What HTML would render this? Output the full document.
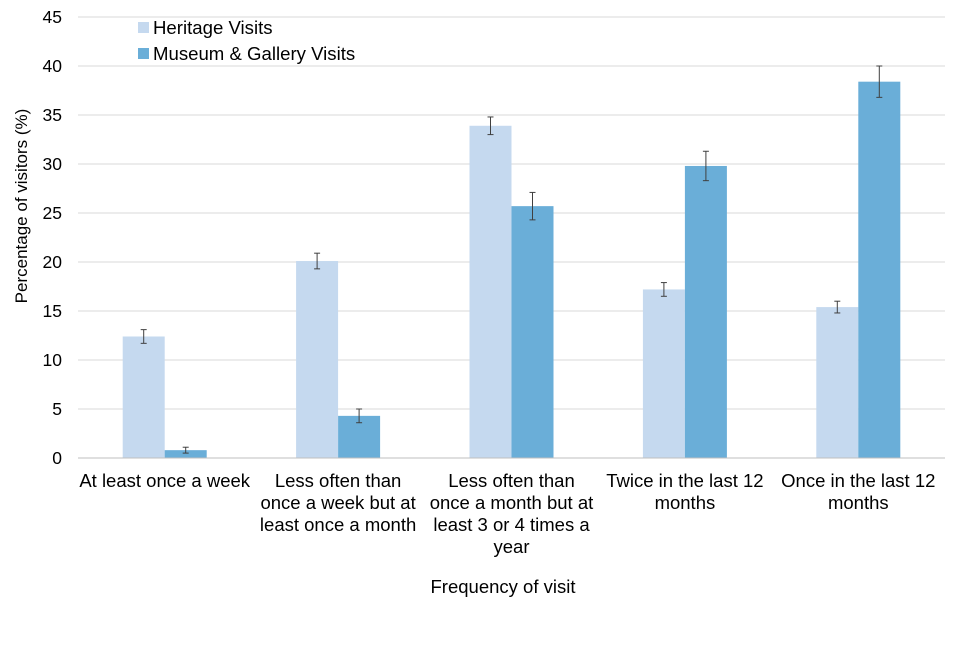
<!DOCTYPE html>
<html><head><meta charset="utf-8"><style>
body{margin:0;background:#fff;}
svg{font-family:"Liberation Sans",Arial,sans-serif;}
</style></head><body>
<svg id="chart" width="960" height="640" viewBox="0 0 960 640"></svg>
<script>
const categories=[["At least once a week"],["Less often than","once a week but at","least once a month"],["Less often than","once a month but at","least 3 or 4 times a","year"],["Twice in the last 12","months"],["Once in the last 12","months"]];
const heritage=[12.4,20.1,33.9,17.2,15.4];
const museum=[0.8,4.3,25.7,29.8,38.4];
const heritageErr=[0.7,0.8,0.9,0.7,0.6];
const museumErr=[0.3,0.7,1.4,1.5,1.6];
const yTicks=[0,5,10,15,20,25,30,35,40,45];
const NS="http://www.w3.org/2000/svg";
const svg=document.getElementById('chart');
const x0=78,x1=945,y0=458,yTop=17;
const y=v=>y0-(v/45)*(y0-yTop);
const bw=(x1-x0)/categories.length;
const cx=i=>x0+bw*(i+0.5);
function mk(t,a,p){const e=document.createElementNS(NS,t);for(const k in a)e.setAttribute(k,a[k]);(p||svg).appendChild(e);return e;}
yTicks.forEach(t=>{
 const l=mk('line',{x1:x0,x2:x1,y1:y(t),y2:y(t),stroke:t===0?'#bfbfbf':'#d9d9d9','stroke-width':1});
 
 
 const tx=mk('text',{x:62,y:y(t)+6,'text-anchor':'end','font-size':17.5,fill:'#000'});tx.textContent=t;
 
 
});
const barW=42;
function errbar(xc,v,e,name){
 const g=mk('g',{stroke:'#404040','stroke-width':1});
 
 
 mk('line',{x1:xc,x2:xc,y1:y(v+e),y2:y(v-e)},g);
 mk('line',{x1:xc-3,x2:xc+3,y1:y(v+e),y2:y(v+e)},g);
 mk('line',{x1:xc-3,x2:xc+3,y1:y(v-e),y2:y(v-e)},g);
}
categories.forEach((c,i)=>{
 const c0=cx(i);
 const r1=mk('rect',{x:c0-barW,y:y(heritage[i]),width:barW,height:y0-y(heritage[i]),fill:'#c5d9ef'});
 
 
 const r2=mk('rect',{x:c0,y:y(museum[i]),width:barW,height:y0-y(museum[i]),fill:'#6aaed8'});
 
 
 errbar(c0-barW/2,heritage[i],heritageErr[i],'error-bar-heritage-'+i);
 errbar(c0+barW/2,museum[i],museumErr[i],'error-bar-museum-'+i);
 const t=mk('text',{x:c0,'text-anchor':'middle','font-size':18.5,fill:'#000'});
 
 
 c.forEach((s,j)=>{const ts=mk('tspan',{x:c0,y:487+j*22},t);ts.textContent=s;});
});
mk('line',{x1:x0,x2:x1,y1:y0,y2:y0,stroke:'#bfbfbf'});
</script>
<svg width="960" height="640" style="position:absolute;left:0;top:0" font-family="Liberation Sans,Arial,sans-serif">
<g>
<rect x="138" y="22" width="11" height="11" fill="#c5d9ef"/>
<text x="153" y="34" font-size="18.6">Heritage Visits</text>
<rect x="138" y="48" width="11" height="11" fill="#6aaed8"/>
<text x="153" y="60" font-size="18.6">Museum &amp; Gallery Visits</text>
</g>
<text x="503" y="593" font-size="18.5" text-anchor="middle">Frequency of visit</text>
<text transform="translate(27,206) rotate(-90)" font-size="17" text-anchor="middle">Percentage of visitors (%)</text>
</svg>
</body></html>
